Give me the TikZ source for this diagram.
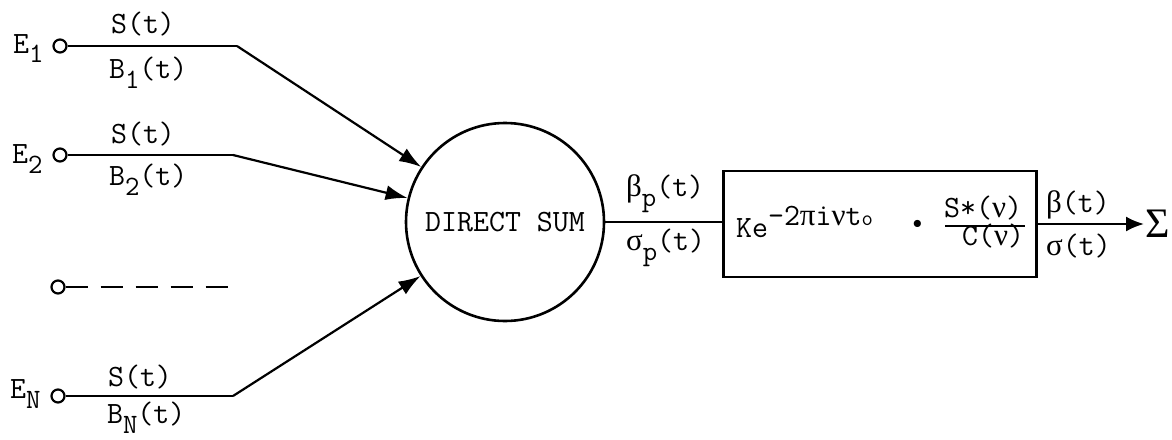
\documentclass[tikz,border=0pt]{standalone}
\usepackage{fontspec}
\newfontfamily\gk{Liberation Serif}
\usetikzlibrary{arrows.meta}
\newcommand\sbs[1]{\raisebox{-5pt}{\fontsize{14}{16}\selectfont #1}}
\newcommand\sps[1]{\raisebox{6pt}{#1}}
\begin{document}
\begin{tikzpicture}[x=0.5pt,y=-0.5pt, line width=1.1pt,
  term/.style={circle,draw,line width=1.1pt,inner sep=0pt,minimum size=6.5pt},
  lbl/.style={inner sep=0pt,font=\ttfamily\fontsize{15.5}{18}\selectfont},
  arr/.style={-{Latex[length=11pt,width=7.5pt]}},
  sumnode/.style={circle,draw,line width=1.3pt,inner sep=0pt,minimum size=99pt,font=\ttfamily\fontsize{15.5}{18}\selectfont},
  filtbox/.style={rectangle,draw,line width=1.3pt,inner sep=0pt,minimum width=156.5pt,minimum height=53pt},
]
\useasboundingbox (0,0) rectangle (1172,439);

% main blocks
\node[sumnode] (sum) at (505,222) {DIRECT SUM};
\node[filtbox] (filt) at (880,224) {};
\node[inner sep=0pt,anchor=west,font=\gk\fontsize{21}{24}\selectfont] (sig) at (1144,224) {Σ};

% terminals
\node[term] (e1) at (60,46) {};
\node[term] (e2) at (60,155) {};
\node[term] (ed) at (58,287) {};
\node[term] (en) at (58,396) {};
\coordinate (c1) at (237,46);
\coordinate (c2) at (233,155);
\coordinate (cn) at (233,396);
\coordinate (dend) at (228,287);

% connectors
\draw (e1) -- (c1);
\draw[arr] (c1) -- (sum);
\draw (e2) -- (c2);
\draw[arr] (c2) -- (sum);
\draw (en) -- (cn);
\draw[arr] (cn) -- (sum);
\draw[dash pattern=on 11pt off 6.5pt] (ed.east) -- (dend);
\draw (sum.east) -- (sum.east -| filt.west);
\draw[-{Latex[length=9pt,width=7.5pt]}] (filt.east |- sig.west) -- (sig.west);

% terminal labels
\node[lbl,anchor=base west] (le1) at (12,53) {E\sbs{1}};
\node[lbl,anchor=base west] (le2) at (11,163) {E\sbs{2}};
\node[lbl,anchor=base west] (len) at (9,398) {E\sbs{N}};

\node[lbl,anchor=base west] (s1) at (110,33) {S(t)};
\node[lbl,anchor=base west] (b1) at (108,78) {B\sbs{1}(t)};
\node[lbl,anchor=base west] (s2) at (110,143) {S(t)};
\node[lbl,anchor=base west] (b2) at (108,185) {B\sbs{2}(t)};
\node[lbl,anchor=base west] (sn) at (107,386) {S(t)};
\node[lbl,anchor=base west] (bn) at (106,423) {B\sbs{N}(t)};

% output labels
\node[lbl,anchor=base west] (bp) at (625,196) {{\gk β}\sbs{p}(t)};
\node[lbl,anchor=base west] (sp) at (625,250) {{\gk σ}\sbs{p}(t)};
\node[lbl,anchor=base west] (bo) at (1045,212) {{\gk β}(t)};
\node[lbl,anchor=base west] (so) at (1045,255) {{\gk σ}(t)};

% filter contents
\node[lbl,anchor=base west] (ke) at (735,237) {Ke\sps{-2{\gk π}i{\gk ν}t}\sps{\fontsize{11}{12}\selectfont o}};
\node[inner sep=0pt,anchor=base,font=\gk\bfseries\fontsize{22}{24}\selectfont] (dot) at (918,238) {·};
\node[lbl,anchor=base west] (num) at (943,217) {S*({\gk ν})};
\node[lbl,anchor=base west] (den) at (961,245) {C({\gk ν})};
\draw (num.south west) ++(2,5) coordinate (fl) -- (fl -| den.east) ;
\end{tikzpicture}
\end{document}
